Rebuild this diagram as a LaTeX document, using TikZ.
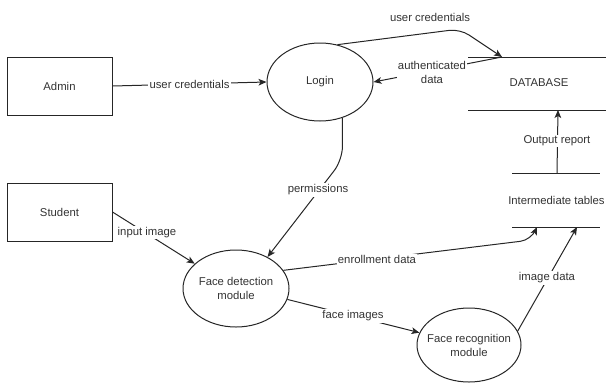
\documentclass[tikz,border=0pt]{standalone}
\usepackage{fontspec}
\setmainfont{Liberation Sans}
\usetikzlibrary{shapes.geometric,arrows.meta}
\begin{document}
\begin{tikzpicture}[x=0.75pt,y=-0.75pt,
  font=\fontsize{8.5}{10.5}\selectfont,
  every node/.style={text=black!80},
  entity/.style={draw=black!85,line width=0.75pt,rectangle,inner sep=0pt,
    minimum width=78.75pt,minimum height=43.5pt},
  proc/.style={draw=black!85,line width=0.75pt,ellipse,align=center,
    inner xsep=-12pt,inner ysep=0pt},
  storeline/.style={draw=black!85,line width=0.75pt},
  flow/.style={draw=black!85,line width=0.75pt,
    -{Stealth[length=6pt,width=5pt,inset=1.5pt]}},
  lbl/.style={fill=white,inner sep=1pt,align=center},
]
\useasboundingbox (0,0) rectangle (606,383);

% external entities
\node[entity] (admin) at (59.5,86) {Admin};
\node[entity] (student) at (59.5,212) {Student};

% processes
\node[proc,minimum width=79.5pt,minimum height=58.5pt] (login) at (320,82) {Login};
\node[proc,minimum width=79.5pt,minimum height=57.75pt] (fd) at (236,288.5) {Face detection\\module};
\node[proc,minimum width=78pt,minimum height=55.5pt] (fr) at (469,345) {Face recognition\\module};

% data stores
\node (db) at (539,83) {DATABASE};
\draw[storeline] (468,57) -- (606,57);
\draw[storeline] (468,110) -- (606,110);
\node[anchor=west,inner sep=0pt] (itab) at (508,200) {Intermediate tables};
\draw[storeline] (512,173) -- (600,173);
\draw[storeline] (512,227) -- (600,227);

% connector end points on the stores
\coordinate (dbtop) at (502,57);
\coordinate (dbbot) at (558,110);
\coordinate (itop) at (557,173);
\coordinate (ienr) at (537,227);
\coordinate (iimg) at (577,227);
\coordinate (credbend) at (460,29);
\coordinate (permbend) at (341,160);
\coordinate (enrbend) at (531,240);

% flows
\draw[flow] (admin.east) -- node[lbl] (l1) {user credentials} (login.west);
\draw[flow,rounded corners=8pt] (login.65) -- (credbend) -- (dbtop);
\node (l2) at (430,17) {user credentials};
\draw[flow] (dbtop) -- (login.east);
\node[lbl] (l3) at (432,72) {authenticated\\data};
\draw[flow,rounded corners=10pt] (login.-58) -- (login.-58 |- permbend) -- (fd.45);
\node[lbl] (l4) at (318,190) {permissions};
\draw[flow] (student.east) -- (fd.149);
\node[lbl] (l5) at (147,232.5) {input image};
\draw[flow,rounded corners=8pt] (fd.21) -- (enrbend) -- (ienr);
\node[lbl] (l6) at (377,259) {enrollment data};
\draw[flow] (fd.-12) -- (fr.166);
\node[lbl] (l7) at (353,316) {face images};
\draw[flow] (fr.16) -- (iimg);
\node[lbl] (l8) at (547,278) {image data};
\draw[flow] (itop) -- (dbbot);
\node[lbl] (l9) at (557,141) {Output report};
\end{tikzpicture}
\end{document}
